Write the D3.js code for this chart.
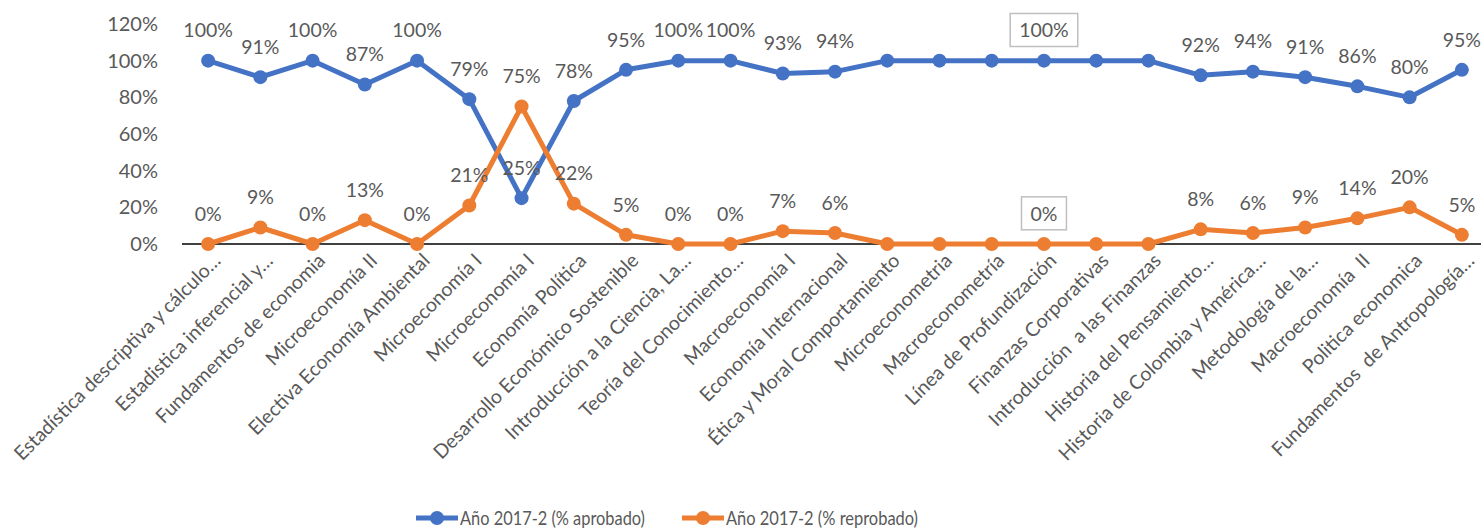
<!DOCTYPE html>
<html><head><meta charset="utf-8">
<script src="https://cdn.jsdelivr.net/npm/d3@7"></script>
<style>body{margin:0;background:#fff}svg{display:block}text{font-family:Lato,"Noto Sans",sans-serif}</style>
</head><body>
<script>
const categories = ["Estadística descriptiva y cálculo…","Estadistica inferencial y…","Fundamentos de economia","Microeconomía II","Electiva Economía Ambiental","Microeconomía I","Microeconomía I","Economía Política","Desarrollo Económico Sostenible","Introducción a la Ciencia, La…","Teoría del Conocimiento…","Macroeconomía I","Economía Internacional","Ética y Moral Comportamiento","Microeconometria","Macroeconometría","Línea de Profundización","Finanzas Corporativas","Introducción  a las Finanzas","Historia del Pensamiento…","Historia de Colombia y América…","Metodología de la…","Macroeconomía  II","Politica economica","Fundamentos  de Antropología…"];
const aprobado = [100,91,100,87,100,79,25,78,95,100,100,93,94,100,100,100,100,100,100,92,94,91,86,80,95];
const reprobado = [0,9,0,13,0,21,75,22,5,0,0,7,6,0,0,0,0,0,0,8,6,9,14,20,5];
// which points carry a data label: 1 = plain, 2 = boxed, 0 = none
const labelMode = [1,1,1,1,1,1,1,1,1,1,1,1,1,0,0,0,2,0,0,1,1,1,1,1,1];
const yTicks = [0,20,40,60,80,100,120];
const seriesNames = ["Año 2017-2 (% aprobado)","Año 2017-2 (% reprobado)"];
const colors = ["#4472C4","#ED7D31"];

const W=1481,H=528;
const svg=d3.select("body").append("svg").attr("width",W).attr("height",H);
const x=d3.scaleBand().domain(d3.range(categories.length)).range([182,1488]);
const y=d3.scaleLinear().domain([0,120]).range([244,24]);
const cx=i=>x(i)+x.bandwidth()/2;
const grey="#595959";

// y tick labels
svg.selectAll(".yt").data(yTicks).enter().append("text")
 .attr("x",158).attr("y",d=>y(d)).attr("dy","0.35em").attr("text-anchor","end")
 .attr("font-size",20).attr("fill",grey).text(d=>d+"%");

// axis line
svg.append("line").attr("x1",182).attr("x2",W).attr("y1",y(0)).attr("y2",y(0)).attr("stroke","#000").attr("stroke-width",1.5);

// category labels
svg.selectAll(".cat").data(categories).enter().append("text")
 .attr("transform",(d,i)=>`translate(${cx(i)+9},${y(0)+13}) rotate(-45)`)
 .attr("text-anchor","end").attr("dy","0.35em").attr("font-size",19.5).attr("fill",grey)
 .attr("xml:space","preserve").style("white-space","pre").text(d=>d);

const line=d3.line().x((d,i)=>cx(i)).y(d=>y(d));
[aprobado,reprobado].forEach((vals,s)=>{
  svg.append("path").datum(vals).attr("d",line).attr("fill","none").attr("stroke",colors[s]).attr("stroke-width",5).attr("stroke-linejoin","round");
  svg.selectAll(null).data(vals).enter().append("circle").attr("cx",(d,i)=>cx(i)).attr("cy",d=>y(d)).attr("r",7).attr("fill",colors[s]);
});
[aprobado,reprobado].forEach((vals,s)=>{
  vals.forEach((v,i)=>{
    if(!labelMode[i]) return;
    const t=svg.append("text").attr("x",cx(i)).attr("y",y(v)-30).attr("dy","0.35em").attr("text-anchor","middle")
      .attr("font-size",19.5).attr("fill",grey).text(v+"%");
    if(labelMode[i]===2){
      const b=t.node().getBBox();
      svg.insert("rect","text").attr("x",b.x-9).attr("y",b.y-5).attr("width",b.width+18).attr("height",b.height+10)
        .attr("fill","#fff").attr("stroke","#BFBFBF").attr("stroke-width",1.5);
    }
  });
});

// legend
const lg=[{x:416,tx:460,len:185},{x:682,tx:726,len:192}];
seriesNames.forEach((n,s)=>{
  const g=svg.append("g");
  g.append("line").attr("x1",lg[s].x).attr("x2",lg[s].x+42).attr("y1",518).attr("y2",518).attr("stroke",colors[s]).attr("stroke-width",5);
  g.append("circle").attr("cx",lg[s].x+21).attr("cy",518).attr("r",7).attr("fill",colors[s]);
  g.append("text").attr("x",lg[s].tx).attr("y",518).attr("dy","0.35em").attr("font-size",20).attr("fill",grey)
    .attr("textLength",lg[s].len).attr("lengthAdjust","spacingAndGlyphs").text(n);
});
</script>
</body></html>
